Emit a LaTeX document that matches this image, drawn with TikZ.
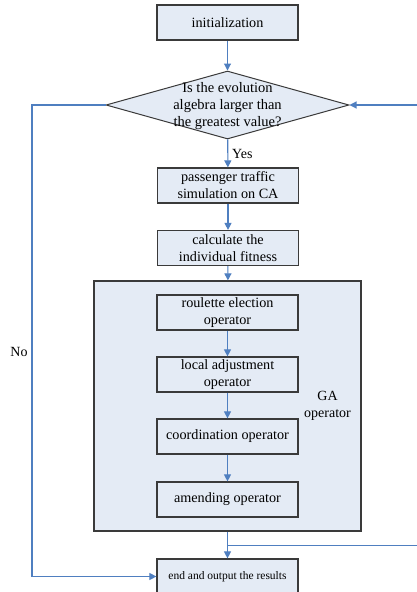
\documentclass[tikz,border=0pt]{standalone}
\usepackage{fontspec}
\setmainfont{Liberation Serif}
\usetikzlibrary{shapes.geometric,arrows.meta}
\definecolor{boxfill}{HTML}{E4EBF5}
\definecolor{boxline}{HTML}{3A3A3A}
\definecolor{flow}{HTML}{4F7FC0}
\tikzset{
  stepbox/.style={draw=boxline, fill=boxfill, line width=1.2pt, minimum width=141pt,
    minimum height=35pt, inner sep=0pt, align=center, font=\fontsize{14.2}{17}\selectfont},
  groupbox/.style={draw=boxline, fill=boxfill, line width=1.2pt, minimum width=267pt,
    minimum height=250pt, inner sep=0pt},
  decision/.style={draw=boxline, fill=boxfill, line width=1pt, shape=diamond,
    minimum width=243pt, minimum height=68pt, inner sep=0pt},
  flowline/.style={draw=flow, line width=1.1pt},
  flowarrow/.style={flowline, -{Triangle[length=7pt,width=7pt]}},
  lbl/.style={font=\fontsize{14}{17}\selectfont, inner sep=0pt, align=center}
}
\begin{document}
\begin{tikzpicture}[x=1pt,y=-1pt]
\useasboundingbox (0,0) rectangle (416,592);
\fill[white] (0,0) rectangle (416,592);

% main chain of steps
\node[stepbox] (init) at (227.5,22.5) {initialization};
\node[decision] (test) at (227.5,105) {};
\node[lbl, font=\fontsize{14.5}{17}\selectfont] (testtext) at (227.5,106.5)
  {Is the evolution\\algebra larger than\\the greatest value?};
\node[stepbox] (sim) at (228,185.5) {passenger traffic\\simulation on CA};
\node[stepbox] (fit) at (228,248) {calculate the\\individual fitness};

% genetic operators
\node[groupbox] (ga) at (227.5,406) {};
\node[stepbox] (roul) at (227.5,312.5) {roulette election\\operator};
\node[stepbox] (local) at (227.5,374.5) {local adjustment\\operator};
\node[stepbox] (coord) at (227.5,436.5) {coordination operator};
\node[stepbox] (amend) at (227.5,499.5) {amending operator};
\node[lbl] (galabel) at (327.5,406) {GA\\operator};

\node[stepbox, font=\fontsize{11.5}{13}\selectfont] (finish) at (227.5,576.5) {end and output the results};

% labels on the branches
\node[lbl, anchor=west] (yes) at (232,154) {Yes};
\node[lbl] (no) at (19,352) {No};

% connectors
\draw[flowarrow] (init) -- (test);
\draw[flowarrow] (test) -- (sim);
\draw[flowarrow] (sim) -- (fit);
\draw[flowarrow] (fit) -- (ga);
\draw[flowarrow] (roul) -- (local);
\draw[flowarrow] (local) -- (coord);
\draw[flowarrow] (coord) -- (amend);
\draw[flowarrow] (ga) -- (finish);

% loop back to the test (the return runs along the far right edge)
\coordinate (join) at (227.5,545.5);
\coordinate (rdown) at (419,545.5);
\coordinate (rup) at (419,105);
\draw[flowarrow] (join) -- (rdown) -- (rup) -- (test.east);

% exit when the limit is reached
\coordinate (lup) at (32,105);
\coordinate (ldown) at (32,576.5);
\draw[flowarrow] (test.west) -- (lup) -- (ldown) -- (finish.west);
\end{tikzpicture}
\end{document}
